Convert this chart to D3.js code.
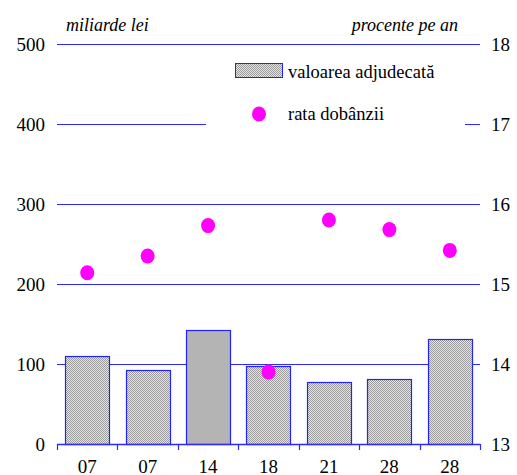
<!DOCTYPE html>
<html>
<head>
<meta charset="utf-8">
<script src="https://cdn.jsdelivr.net/npm/d3@7"></script>
<style>
  body { margin: 0; background: #fff; }
</style>
</head>
<body>
<div id="grafic"></div>
<script>
// date
const zile = ["07", "07", "14", "18", "21", "28", "28"];
const valoare = [110, 92, 143, 97, 77, 81, 131];
const rata = [15.14, 15.35, 15.73, 13.9, 15.8, 15.68, 15.42];
const ticksStanga = [0, 100, 200, 300, 400, 500];
const ticksDreapta = [13, 14, 15, 16, 17, 18];

const W = 517, H = 475;
const margin = { left: 57, right: 37, top: 44, bottom: 31 };
const FONT = "'Times New Roman', Tinos, 'Liberation Serif', serif";

const svg = d3.select("#grafic")
  .append("svg")
  .attr("width", W)
  .attr("height", H);

// model hasurat pentru bare
const defs = svg.append("defs");
const pat = defs.append("pattern")
  .attr("id", "hasura")
  .attr("width", 2)
  .attr("height", 2)
  .attr("patternUnits", "userSpaceOnUse");
pat.append("rect").attr("width", 2).attr("height", 2).attr("fill", "#e6e6e6");
pat.append("rect").attr("width", 1).attr("height", 1).attr("fill", "#9a9a9a");
pat.append("rect").attr("x", 1).attr("y", 1).attr("width", 1).attr("height", 1).attr("fill", "#9a9a9a");

let x = d3.scaleBand()
  .domain(d3.range(zile.length))
  .range([margin.left, W - margin.right])
  .paddingInner(0.27)
  .paddingOuter(0.135);

let y = d3.scaleLinear().domain([0, 500]).range([H - margin.bottom, margin.top]);
let y2 = d3.scaleLinear().domain([13, 18]).range([H - margin.bottom, margin.top]);

// linii de grila
svg.append("g")
  .selectAll("line")
  .data(ticksStanga.filter((d) => d > 0))
  .enter()
  .append("line")
  .attr("x1", margin.left)
  .attr("x2", W - margin.right)
  .attr("y1", (d) => Math.round(y(d)) + 0.5)
  .attr("y2", (d) => Math.round(y(d)) + 0.5)
  .attr("stroke", "#2b2bff")
  .attr("stroke-width", 1);

// fundal legenda
svg.append("rect")
  .attr("x", 206)
  .attr("y", 55)
  .attr("width", 259)
  .attr("height", 95)
  .attr("fill", "#fff");

// bare
svg.append("g")
  .selectAll("rect")
  .data(valoare)
  .enter()
  .append("rect")
  .attr("x", (d, i) => Math.round(x(i)) + 0.5)
  .attr("y", (d) => Math.round(y(d)) + 0.5)
  .attr("width", Math.round(x.bandwidth()))
  .attr("height", (d) => Math.round(y(0)) - Math.round(y(d)))
  .attr("fill", (d, i) => (i === 2 ? "#b4b4b4" : "url(#hasura)"))
  .attr("stroke", "#2222ff")
  .attr("stroke-width", 1.2);

// axa x
const ax = svg.append("g");
ax.append("line")
  .attr("x1", margin.left)
  .attr("x2", W - margin.right)
  .attr("y1", y(0) + 0.5)
  .attr("y2", y(0) + 0.5)
  .attr("stroke", "#2b2bff")
  .attr("stroke-width", 1.5);
const margini = d3.range(zile.length + 1).map((i) => margin.left + i * x.step());
ax.selectAll("line.tick")
  .data(margini)
  .enter()
  .append("line")
  .attr("class", "tick")
  .attr("x1", (d) => Math.round(d) + 0.5)
  .attr("x2", (d) => Math.round(d) + 0.5)
  .attr("y1", y(0))
  .attr("y2", y(0) + 6)
  .attr("stroke", "#2b2bff")
  .attr("stroke-width", 1.2);
ax.selectAll("text")
  .data(zile)
  .enter()
  .append("text")
  .attr("x", (d, i) => x(i) + x.bandwidth() / 2)
  .attr("y", 473)
  .attr("text-anchor", "middle")
  .style("font-family", FONT)
  .style("font-size", "19px")
  .text((d) => d);

// puncte rata dobanzii
svg.append("g")
  .selectAll("ellipse")
  .data(rata)
  .enter()
  .append("ellipse")
  .attr("cx", (d, i) => x(i) + x.bandwidth() / 2)
  .attr("cy", (d) => y2(d))
  .attr("rx", 7)
  .attr("ry", 7.5)
  .attr("fill", "#ff00ff");

// etichete axe
svg.append("g")
  .selectAll("text")
  .data(ticksStanga)
  .enter()
  .append("text")
  .attr("x", 45)
  .attr("y", (d) => y(d) + 7)
  .attr("text-anchor", "end")
  .style("font-family", FONT)
  .style("font-size", "19px")
  .text((d) => d);

svg.append("g")
  .selectAll("text")
  .data(ticksDreapta)
  .enter()
  .append("text")
  .attr("x", 491)
  .attr("y", (d) => y2(d) + 7)
  .style("font-family", FONT)
  .style("font-size", "19px")
  .text((d) => d);

svg.append("text")
  .attr("x", 66)
  .attr("y", 31)
  .style("font-family", FONT)
  .style("font-size", "18px")
  .style("font-style", "italic")
  .text("miliarde lei");

svg.append("text")
  .attr("x", 458)
  .attr("y", 31)
  .attr("text-anchor", "end")
  .style("font-family", FONT)
  .style("font-size", "18px")
  .style("font-style", "italic")
  .text("procente pe an");

// legenda
svg.append("rect")
  .attr("x", 235.5)
  .attr("y", 63.5)
  .attr("width", 47)
  .attr("height", 14)
  .attr("fill", "url(#hasura)")
  .attr("stroke", "#2222ff")
  .attr("stroke-width", 1);
svg.append("text")
  .attr("x", 288)
  .attr("y", 78)
  .style("font-family", FONT)
  .style("font-size", "18.5px")
  .text("valoarea adjudecată");

svg.append("ellipse")
  .attr("cx", 259)
  .attr("cy", 114)
  .attr("rx", 7)
  .attr("ry", 7.5)
  .attr("fill", "#ff00ff");
svg.append("text")
  .attr("x", 288)
  .attr("y", 120)
  .style("font-family", FONT)
  .style("font-size", "18.5px")
  .text("rata dobânzii");
</script>
</body>
</html>
